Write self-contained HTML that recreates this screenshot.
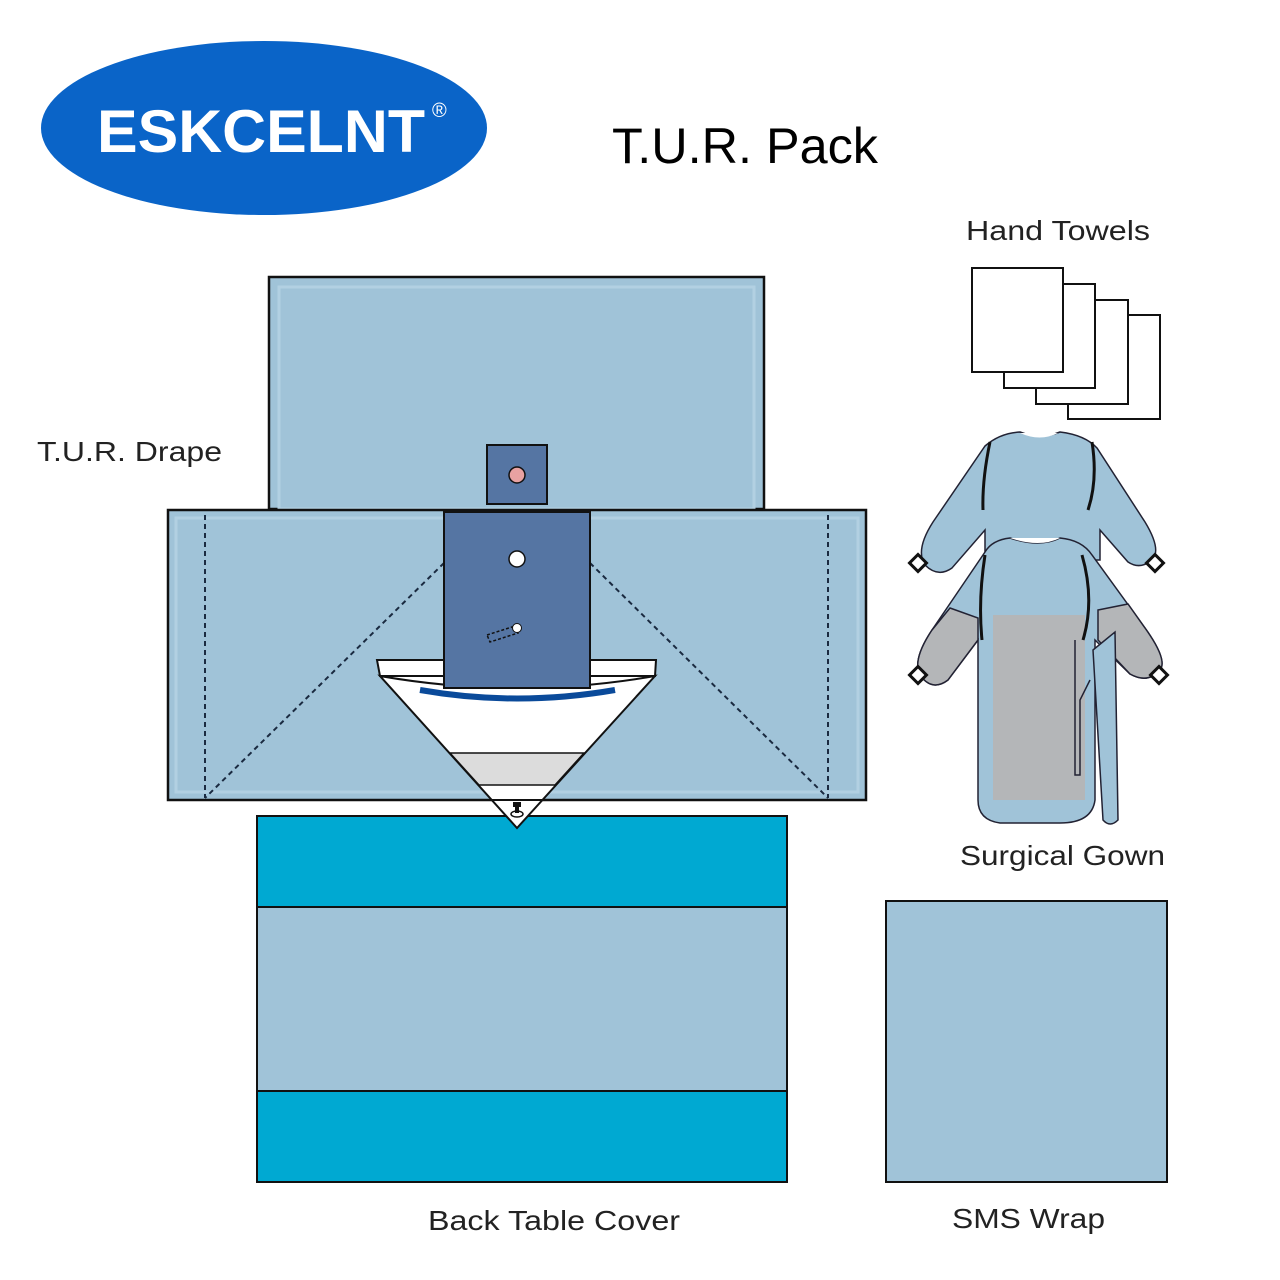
<!DOCTYPE html>
<html><head><meta charset="utf-8"><style>
html,body{margin:0;padding:0;background:#fff;}
svg{display:block}
text{font-family:"Liberation Sans",sans-serif}
</style></head><body>
<svg width="1280" height="1280" viewBox="0 0 1280 1280" xmlns="http://www.w3.org/2000/svg">
<rect width="1280" height="1280" fill="#fff"/>
<ellipse cx="264" cy="128" rx="223" ry="87" fill="#0a64c8"/>
<text x="97" y="152" font-size="60" font-weight="bold" fill="#fff" textLength="328" lengthAdjust="spacingAndGlyphs">ESKCELNT</text>
<text x="432" y="117" font-size="20" fill="#fff">®</text>
<text x="612" y="163" font-size="50" fill="#000" textLength="266" lengthAdjust="spacingAndGlyphs">T.U.R. Pack</text>

<text x="37" y="461" font-size="28" fill="#222" textLength="185" lengthAdjust="spacingAndGlyphs">T.U.R. Drape</text>
<text x="966" y="240" font-size="28" fill="#222" textLength="184" lengthAdjust="spacingAndGlyphs">Hand Towels</text>
<text x="960" y="865" font-size="28" fill="#222" textLength="205" lengthAdjust="spacingAndGlyphs">Surgical Gown</text>
<text x="428" y="1230" font-size="28" fill="#222" textLength="252" lengthAdjust="spacingAndGlyphs">Back Table Cover</text>
<text x="952" y="1228" font-size="28" fill="#222" textLength="153" lengthAdjust="spacingAndGlyphs">SMS Wrap</text>

<rect x="269" y="277" width="495" height="232" fill="#a0c3d8" stroke="#111" stroke-width="2.5"/>
<rect x="279" y="287" width="475" height="222" fill="none" stroke="#b2d0e2" stroke-width="3"/>
<rect x="168" y="510" width="698" height="290" fill="#a0c3d8" stroke="#111" stroke-width="2.5"/>
<rect x="176" y="518" width="682" height="274" fill="none" stroke="#b2d0e2" stroke-width="3"/>
<g stroke="#1a2a40" stroke-width="2" stroke-dasharray="5,4" fill="none">
<line x1="205" y1="515" x2="205" y2="798"/>
<line x1="828" y1="515" x2="828" y2="798"/>
<line x1="444" y1="563" x2="205" y2="798"/>
<line x1="590" y1="563" x2="828" y2="798"/>
</g>
<rect x="487" y="445" width="60" height="59" fill="#5575a3" stroke="#111" stroke-width="2"/>
<circle cx="517" cy="475" r="8" fill="#e8a2a2" stroke="#111" stroke-width="1.5"/>

<rect x="257" y="816" width="530" height="366" fill="#a0c3d8" stroke="#111" stroke-width="2"/>
<rect x="257" y="816" width="530" height="91" fill="#00a9d2" stroke="#111" stroke-width="2"/>
<rect x="257" y="1091" width="530" height="91" fill="#00a9d2" stroke="#111" stroke-width="2"/>

<path d="M380 676 L655 676 L517 828 Z" fill="#fff"/>
<path d="M377 660 L656 660 L655 676 L380 676 Z" fill="#fff" stroke="#111" stroke-width="2"/>
<path d="M380 676 Q517 700 655 676 L517 828 Z" fill="#fff" stroke="#111" stroke-width="2"/>
<path d="M450 753 L584 753 L555 785 L479 785 Z" fill="#dcdcdc" stroke="#111" stroke-width="1.5"/>
<line x1="489" y1="800" x2="545" y2="800" stroke="#111" stroke-width="2"/>
<rect x="444" y="512" width="146" height="176" fill="#5575a3" stroke="#111" stroke-width="2"/>
<circle cx="517" cy="559" r="8" fill="#fff" stroke="#111" stroke-width="1.5"/>
<path d="M487 635 L515 626 L518 633 L490 642 Z" fill="none" stroke="#111" stroke-width="1.5" stroke-dasharray="3,2"/>
<circle cx="517" cy="628" r="4.5" fill="#fff" stroke="#111" stroke-width="1"/>
<path d="M420 690 Q517 707 615 690" fill="none" stroke="#0a4a9a" stroke-width="6"/>
<path d="M513 802 h8 v5 h-2 v6 h-4 v-6 h-2z" fill="#111"/>
<ellipse cx="517" cy="814" rx="6" ry="3" fill="none" stroke="#111" stroke-width="1.5"/>

<rect x="886" y="901" width="281" height="281" fill="#a0c3d8" stroke="#111" stroke-width="2"/>

<g fill="#fff" stroke="#111" stroke-width="2">
<rect x="1068" y="315" width="92" height="104"/>
<rect x="1036" y="300" width="92" height="104"/>
<rect x="1004" y="284" width="91" height="104"/>
<rect x="972" y="268" width="91" height="104"/>
</g>

<g stroke="#223" stroke-width="1.5" fill="#a0c3d8">
<path d="M985 446 Q1000 433 1020 432 Q1040 440 1060 432 Q1085 435 1097 448 L1145 522 Q1162 550 1152 560 Q1140 570 1128 562 L1100 530 L1100 560 L985 560 L985 530 L952 568 Q938 578 925 565 Q915 550 933 522 Z"/>
</g>
<path d="M1092 442 Q1098 480 1088 510" fill="none" stroke="#111" stroke-width="3"/>
<path d="M990 442 Q982 480 983 510" fill="none" stroke="#111" stroke-width="3"/>
<path d="M1020 433 Q1040 442 1058 433 Z" fill="#fff"/>
<rect x="912" y="557" width="12" height="12" transform="rotate(45 918 563)" fill="#fff" stroke="#111" stroke-width="3"/>
<rect x="1149" y="557" width="12" height="12" transform="rotate(45 1155 563)" fill="#fff" stroke="#111" stroke-width="3"/>
<path d="M985 552 Q992 540 1010 538 Q1040 548 1060 538 Q1082 540 1092 555 L1145 628 Q1168 660 1160 670 Q1148 684 1130 674 L1095 640 L1095 800 Q1092 823 1060 823 L1000 823 Q978 820 978 800 L978 640 L948 680 Q932 692 920 675 Q912 660 932 630 Z" fill="#a0c3d8" stroke="#223" stroke-width="1.5"/>
<path d="M993 615 L1085 615 L1085 800 L993 800 Z" fill="#b4b6b8"/>
<path d="M950 608 L978 618 L978 640 L948 680 Q932 692 920 675 Q912 660 932 630 Z" fill="#b4b6b8" stroke="#223" stroke-width="1.5"/>
<path d="M1098 610 L1128 604 L1145 628 Q1168 660 1160 670 Q1148 684 1130 674 L1098 640 Z" fill="#b4b6b8" stroke="#223" stroke-width="1.5"/>
<path d="M1093 650 L1115 632 L1118 820 Q1110 828 1103 820 Z" fill="#a0c3d8" stroke="#223" stroke-width="1.5"/>
<path d="M1075 640 L1075 775 L1080 775 L1080 700 L1090 680" fill="none" stroke="#223" stroke-width="1.5"/>
<path d="M1010 538 Q1040 548 1060 538 Z" fill="#fff"/>
<path d="M1082 555 Q1095 600 1083 640" fill="none" stroke="#111" stroke-width="3"/>
<path d="M985 555 Q978 600 982 640" fill="none" stroke="#111" stroke-width="3"/>
<rect x="912" y="669" width="12" height="12" transform="rotate(45 918 675)" fill="#fff" stroke="#111" stroke-width="3"/>
<rect x="1153" y="669" width="12" height="12" transform="rotate(45 1159 675)" fill="#fff" stroke="#111" stroke-width="3"/>
</svg>
</body></html>
